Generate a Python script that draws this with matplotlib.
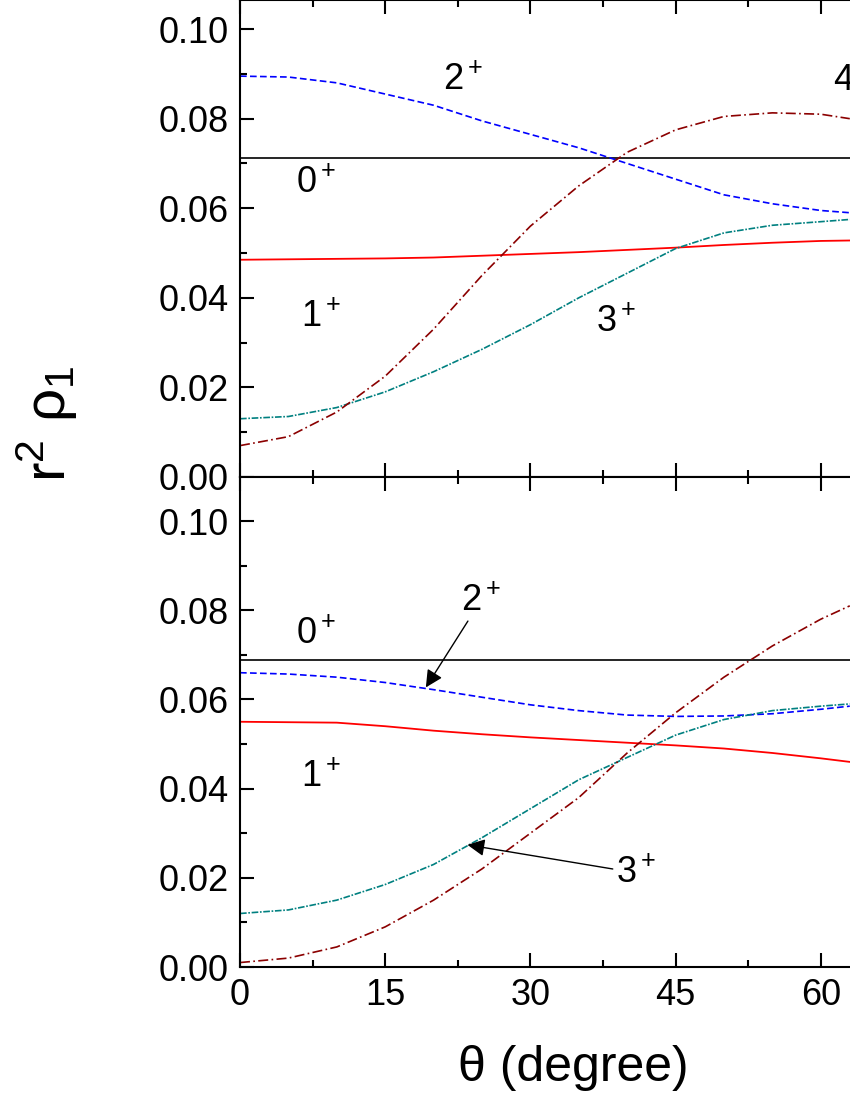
import matplotlib.pyplot as plt
from matplotlib.ticker import MultipleLocator, FormatStrFormatter

plt.rcParams['font.family'] = 'Liberation Sans'
plt.rcParams['mathtext.fontset'] = 'custom'
plt.rcParams['mathtext.rm'] = 'Liberation Sans'
plt.rcParams['mathtext.it'] = 'Liberation Sans'

theta = [0, 5, 10, 15, 20, 25, 30, 35, 40, 45, 50, 55, 60, 63]

# top panel
top_0 = [0.0712] * 14
top_1 = [0.0485, 0.0486, 0.0487, 0.0488, 0.0490, 0.0494, 0.0498, 0.0502, 0.0507, 0.0512, 0.0518, 0.0523, 0.0527, 0.0528]
top_2 = [0.0895, 0.0893, 0.0880, 0.0855, 0.0830, 0.0795, 0.0765, 0.0735, 0.0700, 0.0665, 0.0630, 0.0610, 0.0595, 0.0590]
top_3 = [0.0130, 0.0135, 0.0155, 0.0190, 0.0235, 0.0285, 0.0340, 0.0400, 0.0455, 0.0510, 0.0545, 0.0562, 0.0570, 0.0575]
top_4 = [0.0070, 0.0090, 0.0145, 0.0225, 0.0330, 0.0450, 0.0560, 0.0650, 0.0725, 0.0775, 0.0805, 0.0813, 0.0810, 0.0800]

# bottom panel
bot_0 = [0.0688] * 14
bot_1 = [0.0550, 0.0549, 0.0548, 0.0540, 0.0530, 0.0522, 0.0515, 0.0509, 0.0503, 0.0497, 0.0490, 0.0480, 0.0468, 0.0460]
bot_2 = [0.0660, 0.0657, 0.0650, 0.0638, 0.0622, 0.0605, 0.0588, 0.0575, 0.0565, 0.0562, 0.0563, 0.0568, 0.0578, 0.0585]
bot_3 = [0.0120, 0.0128, 0.0150, 0.0185, 0.0230, 0.0290, 0.0355, 0.0420, 0.0470, 0.0520, 0.0555, 0.0575, 0.0585, 0.0590]
bot_4 = [0.0010, 0.0020, 0.0045, 0.0090, 0.0150, 0.0220, 0.0300, 0.0380, 0.0480, 0.0570, 0.0650, 0.0720, 0.0780, 0.0810]

fig = plt.figure(figsize=(8.5, 11), dpi=100)
ax_t = fig.add_axes([240/850, 0.5664, 1 - 240/850 + 0.01, 0.4336])
ax_b = fig.add_axes([240/850, 0.1209, 1 - 240/850 + 0.01, 0.4455])

def style(ax, ytop):
    ax.set_xlim(0, 63.9)
    ax.set_ylim(0, ytop)
    ax.xaxis.set_major_locator(MultipleLocator(15))
    ax.xaxis.set_minor_locator(MultipleLocator(7.5))
    ax.yaxis.set_major_locator(MultipleLocator(0.02))
    ax.yaxis.set_minor_locator(MultipleLocator(0.01))
    ax.yaxis.set_major_formatter(FormatStrFormatter('%.2f'))
    ax.tick_params(which='both', direction='in', top=True, width=1.5, labelsize=26)
    ax.tick_params(which='major', length=10, pad=8)
    ax.tick_params(which='minor', length=5)
    for s in ax.spines.values():
        s.set_linewidth(1.5)

def curves(ax, c0, c1, c2, c3, c4):
    ax.plot(theta, c0, color='black', lw=1.2)
    ax.plot(theta, c1, color='red', lw=1.3)
    ax.plot(theta, c2, color='blue', lw=1.2, ls=(0, (4, 2)))
    ax.plot(theta, c3, color='#008080', lw=1.2, ls=(0, (4, 1, 1, 1)))
    ax.plot(theta, c4, color='#8b0000', lw=1.2, ls=(0, (6, 2, 1, 2)))

style(ax_t, 0.1065)
style(ax_b, 0.1099)
ax_t.tick_params(labelbottom=False)
curves(ax_t, top_0, top_1, top_2, top_3, top_4)
curves(ax_b, bot_0, bot_1, bot_2, bot_3, bot_4)

fs = 26
ax_t.text(21, 0.0864, '2$^+$', fontsize=fs)
ax_t.text(61.3, 0.0865, '4', fontsize=fs)
ax_t.text(5.8, 0.0635, '0$^+$', fontsize=fs)
ax_t.text(6.3, 0.0335, '1$^+$', fontsize=fs)
ax_t.text(36.8, 0.0325, '3$^+$', fontsize=fs)

ax_b.text(5.8, 0.0725, '0$^+$', fontsize=fs)
ax_b.text(6.3, 0.0405, '1$^+$', fontsize=fs)
ax_b.annotate('2$^+$', xy=(19.2, 0.0627), xytext=(22.8, 0.0800), fontsize=fs,
              arrowprops=dict(arrowstyle='-|>', color='black', lw=1, shrinkA=0, shrinkB=0))
ax_b.annotate('3$^+$', xy=(23.5, 0.0274), xytext=(38.8, 0.0190), fontsize=fs,
              arrowprops=dict(arrowstyle='-|>', color='black', lw=1, shrinkA=0, shrinkB=0))

fig.text(0.055, 0.615, r'r$^2$ $\rho_1$', fontsize=42, rotation=90, ha='center', va='center')
fig.text(0.81 * 1, 1 - 1068/1100, 'θ (degree)', fontsize=36, ha='right', va='center')

fig.savefig('out.png', dpi=100)
